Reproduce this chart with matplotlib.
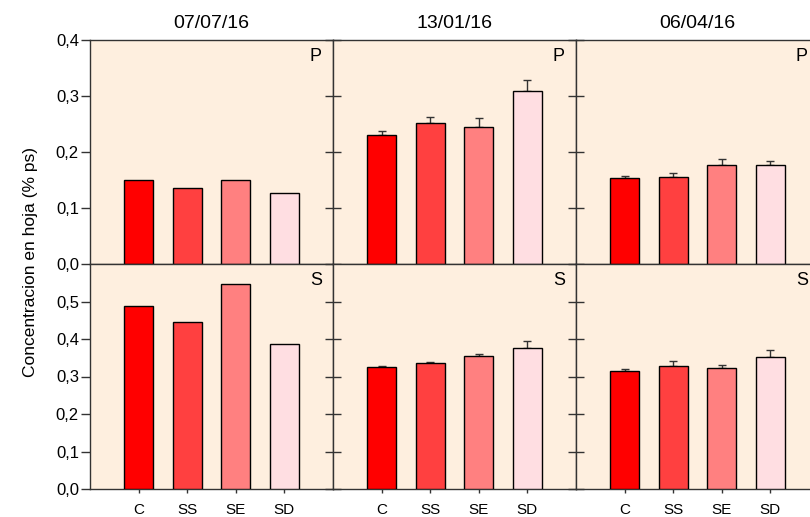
import matplotlib
matplotlib.use("Agg")
import matplotlib.pyplot as plt
from matplotlib.ticker import FuncFormatter

plt.rcParams['font.family'] = ['Liberation Sans', 'DejaVu Sans']

dates = ["07/07/16", "13/01/16", "06/04/16"]
treatments = ["C", "SS", "SE", "SD"]
bar_colors = ["#ff0000", "#ff4040", "#ff8080", "#ffdee2"]

# phosphorus (P) in leaf, % dry weight
p_mean = [
    [0.150, 0.135, 0.150, 0.127],
    [0.230, 0.252, 0.245, 0.309],
    [0.153, 0.155, 0.176, 0.177],
]
p_err = [
    [0.0, 0.0, 0.0, 0.0],
    [0.008, 0.010, 0.016, 0.019],
    [0.005, 0.007, 0.011, 0.007],
]
# sulphur (S) in leaf, % dry weight
s_mean = [
    [0.489, 0.446, 0.547, 0.388],
    [0.325, 0.335, 0.355, 0.375],
    [0.316, 0.329, 0.324, 0.353],
]
s_err = [
    [0.0, 0.0, 0.0, 0.0],
    [0.002, 0.005, 0.006, 0.019],
    [0.005, 0.012, 0.006, 0.017],
]

W, H = 810, 517
fig = plt.figure(figsize=(W / 100, H / 100), dpi=100)

left, pw = 90, 243
top_y0, top_y1 = 40, 264
bot_y0, bot_y1 = 264, 489
bg = "#feefdf"
edge = "#333333"
comma = FuncFormatter(lambda v, pos: f"{v:.1f}".replace(".", ","))
xs = [1, 2, 3, 4]


def panel(ax, means, errs, ymax, ystep, letter, col, bottom):
    ax.set_facecolor(bg)
    ax.bar(xs, means, width=0.6, color=bar_colors, edgecolor="black", linewidth=1.0, zorder=3)
    if any(e > 0 for e in errs):
        ax.errorbar(xs, means, yerr=[[0] * 4, errs], fmt="none", ecolor="#333333",
                    elinewidth=1.0, capsize=3, capthick=1.0, zorder=2)
    ax.set_xlim(0, 5)
    ax.set_ylim(0, ymax)
    ticks = [i * ystep for i in range(int(round(ymax / ystep)) + (0 if bottom else 1))]
    ax.set_yticks(ticks)
    ax.yaxis.set_major_formatter(comma)
    for s in ax.spines.values():
        s.set_color(edge)
        s.set_linewidth(1.0)
    if col == 0:
        ax.tick_params(axis="y", direction="out", length=6.5, width=1, color=edge,
                       labelsize=12, pad=1.5)
    else:
        ax.tick_params(axis="y", direction="inout", length=12, width=1, color=edge,
                       labelleft=False)
    if bottom:
        ax.set_xticks(xs)
        ax.set_xticklabels(treatments)
        ax.tick_params(axis="x", direction="out", length=3, width=1, color=edge,
                       labelsize=11, pad=7)
    else:
        ax.set_xticks([])
    ax.text(0.93, 0.925, letter, transform=ax.transAxes, ha="center", va="center",
            fontsize=13)


for c in range(3):
    x0 = (left + c * pw) / W
    ax_t = fig.add_axes([x0, (H - top_y1) / H, pw / W, (top_y1 - top_y0) / H])
    panel(ax_t, p_mean[c], p_err[c], 0.4, 0.1, "P", c, False)
    ax_t.set_title(dates[c], fontsize=14, pad=9)
    ax_b = fig.add_axes([x0, (H - bot_y1) / H, pw / W, (bot_y1 - bot_y0) / H])
    panel(ax_b, s_mean[c], s_err[c], 0.6, 0.1, "S", c, True)

fig.text(31 / W, 1 - 262 / H, "Concentracion en hoja (% ps)", rotation=90,
         ha="center", va="center", fontsize=12.5)

fig.savefig("out.png", dpi=100)
